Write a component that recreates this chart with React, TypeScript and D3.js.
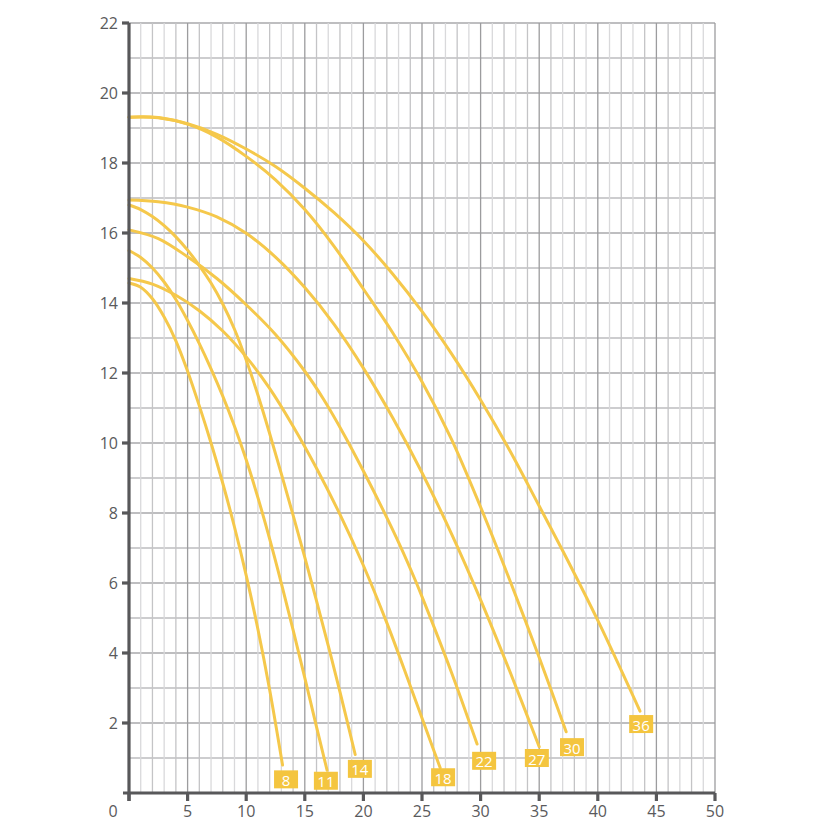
import React from "react";
import * as d3 from "d3";

const xTicks = [0, 5, 10, 15, 20, 25, 30, 35, 40, 45, 50];
const yTicks = [2, 4, 6, 8, 10, 12, 14, 16, 18, 20, 22];

const seriesNames = ["8", "11", "14", "18", "22", "27", "30", "36"];

const flow8 = [0, 1, 2, 3, 4, 5, 6, 7, 8, 9, 10, 11, 12, 13.1];
const head8 = [14.57, 14.45, 14.12, 13.6, 12.92, 12.05, 11.06, 10.0, 8.85, 7.6, 6.22, 4.68, 2.95, 0.8];

const flow11 = [0, 1, 2, 3, 4, 5, 6, 7, 8, 9, 10, 11, 12, 13, 14, 15, 16, 16.9];
const head11 = [15.5, 15.3, 15.0, 14.6, 14.1, 13.5, 12.84, 12.12, 11.34, 10.48, 9.52, 8.44, 7.26, 5.99, 4.66, 3.29, 1.89, 0.65];

const flow14 = [0, 1, 2, 3, 4, 5, 6, 7, 8, 9, 10, 11, 12, 13, 14, 15, 16, 17, 18, 19.3];
const head14 = [16.8, 16.67, 16.47, 16.21, 15.89, 15.51, 15.07, 14.57, 13.97, 13.25, 12.37, 11.37, 10.27, 9.12, 7.94, 6.73, 5.49, 4.21, 2.89, 1.1];

const flow18 = [0, 2, 4, 6, 8, 10, 12, 14, 16, 18, 20, 22, 24, 26, 26.55];
const head18 = [14.7, 14.54, 14.22, 13.78, 13.2, 12.46, 11.56, 10.48, 9.28, 7.96, 6.5, 4.86, 3.06, 1.22, 0.72];

const flow22 = [0, 2.5, 5, 7.5, 10, 12.5, 15, 16.6, 18.4, 20, 21.6, 23.1, 24.4, 25, 27.5, 29.7];
const head22 = [16.09, 15.84, 15.32, 14.7, 13.95, 13.1, 12.05, 11.25, 10.21, 9.2, 8.14, 7.09, 6.1, 5.61, 3.46, 1.4];

const flow27 = [0, 2.5, 5, 7.5, 10, 12.5, 15, 17.5, 20, 22.5, 25, 27.5, 30, 32.5, 35];
const head27 = [16.94, 16.89, 16.74, 16.46, 15.99, 15.31, 14.44, 13.39, 12.14, 10.72, 9.15, 7.42, 5.52, 3.47, 1.32];

const flow30 = [0, 2.5, 5, 7.5, 10, 12.5, 15, 17.5, 20, 22.5, 25, 27.5, 30, 32.5, 35, 37.3];
const head30 = [19.31, 19.29, 19.11, 18.74, 18.19, 17.52, 16.67, 15.62, 14.4, 13.15, 11.75, 10.12, 8.17, 6.07, 3.87, 1.75];

const flow36 = [0, 2.5, 5, 7.5, 10, 12.5, 15, 17.5, 20, 22.5, 25, 27.5, 30, 32.5, 35, 37.5, 40, 43.6];
const head36 = [19.31, 19.3, 19.12, 18.82, 18.4, 17.9, 17.28, 16.58, 15.78, 14.83, 13.76, 12.56, 11.23, 9.78, 8.2, 6.6, 4.93, 2.34];

const flows = [flow8, flow11, flow14, flow18, flow22, flow27, flow30, flow36];
const heads = [head8, head11, head14, head18, head22, head27, head30, head36];

// label anchor positions (data units)
const labelFlow = [13.4, 16.8, 19.7, 26.8, 30.3, 34.8, 37.8, 43.7];
const labelHead = [0.39, 0.35, 0.69, 0.45, 0.92, 1.0, 1.31, 1.97];

const W = 825;
const H = 825;
const FONT = "'Open Sans', 'DejaVu Sans', sans-serif";
const CURVE = "#f5c84b";
const BOX = "#f4c53f";
const AXIS = "#58585a";
const TEXT = "#5a5a5c";

export default function App() {
  const x = d3.scaleLinear().domain([0, 50]).range([129, 715]);
  const y = d3.scaleLinear().domain([0, 22]).range([793, 23]);

  const line = d3
    .line<[number, number]>()
    .x((d) => x(d[0]))
    .y((d) => y(d[1]))
    .curve(d3.curveCatmullRom.alpha(0.5));

  const vGrid = d3.range(1, 51);
  const hGrid = d3.range(1, 23);

  return (
    <svg
      width={W}
      height={H}
      style={{ position: "absolute", left: 0, top: 0, background: "#fff" }}
    >
      <rect x={0} y={0} width={W} height={H} fill="#fff" />
      <g>
        {hGrid.map((v) => (
          <line
            key={"h" + v}
            x1={x(0)}
            x2={x(50)}
            y1={y(v)}
            y2={y(v)}
            stroke={v % 2 === 0 ? "#a9a9ab" : "#bdbdbf"}
            strokeWidth={1.3}
          />
        ))}
        {vGrid.map((v) => (
          <line
            key={"v" + v}
            x1={x(v)}
            x2={x(v)}
            y1={y(0)}
            y2={y(22)}
            stroke={v % 5 === 0 ? "#9c9c9e" : v % 2 === 0 ? "#c4c4c6" : "#d9d9db"}
            strokeWidth={1.3}
          />
        ))}
      </g>
      <g fill="none" stroke={CURVE} strokeWidth={3} strokeLinecap="round">
        {flows.map((f, i) => (
          <path
            key={"c" + i}
            d={line(f.map((q, j) => [q, heads[i][j]] as [number, number])) || ""}
          />
        ))}
      </g>
      <g stroke={AXIS} strokeWidth={3.2}>
        <line x1={x(0)} x2={x(0)} y1={y(22)} y2={y(0) + 8} />
        <line x1={x(0) - 6} x2={x(50)} y1={y(0)} y2={y(0)} />
        {yTicks.map((t) => (
          <line key={"yt" + t} x1={x(0) - 7} x2={x(0)} y1={y(t)} y2={y(t)} />
        ))}
        {xTicks.map((t) => (
          <line key={"xt" + t} x1={x(t)} x2={x(t)} y1={y(0)} y2={y(0) + 8} />
        ))}
      </g>
      <g fontFamily={FONT} fontSize={16} fill={TEXT}>
        {yTicks.map((t) => (
          <text
            key={"yl" + t}
            x={x(0) - 11}
            y={y(t)}
            textAnchor="end"
            dominantBaseline="central"
          >
            {t}
          </text>
        ))}
        {xTicks.map((t) => (
          <text
            key={"xl" + t}
            x={t === 0 ? x(0) - 16 : x(t)}
            y={y(0) + 24}
            textAnchor="middle"
          >
            {t}
          </text>
        ))}
      </g>
      <g fontFamily={FONT} fontSize={15}>
        {seriesNames.map((name, i) => {
          const cx = x(labelFlow[i]);
          const cy = y(labelHead[i]);
          const w = 24;
          const h = 18;
          return (
            <g key={"lb" + i}>
              <rect x={cx - w / 2} y={cy - h / 2} width={w} height={h} fill={BOX} />
              <text
                x={cx}
                y={cy + 0.5}
                textAnchor="middle"
                dominantBaseline="central"
                fill="#fff"
              >
                {name}
              </text>
            </g>
          );
        })}
      </g>
    </svg>
  );
}
